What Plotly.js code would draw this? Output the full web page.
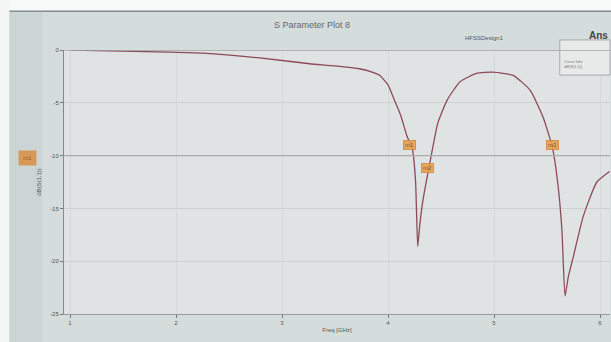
<!DOCTYPE html>
<html><head><meta charset="utf-8">
<script src="https://cdn.plot.ly/plotly-3.0.1.min.js"></script>
<style>html,body{margin:0;padding:0;background:#d5dcdc;}#c{width:611px;height:342px;}</style>
</head><body><div id="c"></div>
<script>
const freqGHz = [1.0,1.5,1.94,2.25,2.79,3.26,3.5,3.74,3.85,3.92,4.0,4.05,4.12,4.18,4.23,4.26,4.28,4.30,4.33,4.40,4.47,4.56,4.68,4.84,4.99,5.18,5.34,5.46,5.55,5.60,5.64,5.67,5.70,5.75,5.84,5.97,6.09];
const s11dB = [0,-0.1,-0.2,-0.3,-0.75,-1.3,-1.5,-1.8,-2.1,-2.4,-3.3,-4.5,-6.2,-8.2,-9.4,-12.5,-18.6,-16.5,-14.2,-10.4,-6.9,-4.7,-3.0,-2.2,-2.1,-2.4,-3.8,-6.3,-9.2,-12.5,-17,-23.3,-21.5,-19.5,-15.8,-12.5,-11.5];
const markerNames = ["m1","m2","m3"];
const markerFreq = [4.2,4.37,5.55];
const markerDB = [-9.0,-11.2,-9.0];
const xTicks = [1,2,3,4,5,6];
const yTicks = [0,-5,-10,-15,-20,-25];

const anns = markerNames.map((n,i)=>({x:markerFreq[i],y:markerDB[i],xref:'x',yref:'y',text:n,showarrow:false,
  bgcolor:'#e8a050',bordercolor:'#d88a3a',borderwidth:1,font:{size:6,color:'#7a4a20',family:'Liberation Sans'},borderpad:1,opacity:0.9}));
anns.push({x:-0.084,y:0.59,xref:'paper',yref:'paper',text:'m1',showarrow:false,bgcolor:'#d9934a',font:{size:6,color:'#8a5020'},borderpad:4,opacity:0.9});
anns.push({x:0.455,y:1.121,xref:'paper',yref:'paper',text:'S Parameter Plot 8',showarrow:false,font:{size:9,color:'#666',family:'Liberation Sans'}});
anns.push({x:0.81,y:1.064,xref:'paper',yref:'paper',text:'HFSSDesign1',showarrow:false,font:{size:6,color:'#555',family:'Liberation Sans'}});
anns.push({x:1.0,y:1.085,xref:'paper',yref:'paper',text:'<b>Ans</b>',showarrow:false,xanchor:'right',font:{size:10,color:'#444',family:'Liberation Sans'}});
anns.push({x:0.955,y:0.975,xref:'paper',yref:'paper',text:'Curve Info<br>dB(S(1,1))',showarrow:false,font:{size:4,color:'#777',family:'Liberation Sans'}});

const data = [{x:freqGHz,y:s11dB,type:'scatter',mode:'lines',line:{color:'#8c4b57',width:1.3,shape:'spline',smoothing:0.5},hoverinfo:'skip'}];

const layout = {
  width:611,height:342,margin:{l:64,r:1,t:50,b:28},
  paper_bgcolor:'#d5dcdc',plot_bgcolor:'#dfe3e4',showlegend:false,
  font:{family:'Liberation Sans',size:7,color:'#555'},
  xaxis:{range:[0.943,6.094],tickvals:xTicks,ticktext:xTicks.map(String),showgrid:true,gridcolor:'#d3d8d8',zeroline:false,
    ticks:'outside',ticklen:3,tickcolor:'#777',showline:true,linecolor:'#999',tickfont:{size:6,color:'#555'},
    title:{text:'Freq [GHz]',font:{size:6,color:'#555'},standoff:2}},
  yaxis:{range:[-25,0],tickvals:yTicks,ticktext:yTicks.map(String),showgrid:true,gridcolor:'#cbd0d0',zeroline:false,
    ticks:'outside',ticklen:3,tickcolor:'#777',showline:true,linecolor:'#888',tickfont:{size:6,color:'#555'},
    title:{text:'dB(S(1,1))',font:{size:6,color:'#555'},standoff:8}},
  annotations:anns,
  shapes:[
    {type:'rect',xref:'paper',yref:'paper',x0:-0.2,x1:1.1,y0:1.15,y1:1.3,fillcolor:'#f8f9f9',line:{width:0},layer:'below'},
    {type:'rect',xref:'paper',yref:'paper',x0:-0.2,x1:-0.1,y0:-0.2,y1:1.3,fillcolor:'#f4f6f6',line:{width:0},layer:'below'},
    {type:'rect',xref:'paper',yref:'paper',x0:-0.1,x1:-0.04,y0:-0.2,y1:1.145,fillcolor:'#ccd5d5',line:{width:0},layer:'below'},
    {type:'line',xref:'paper',yref:'paper',x0:-0.1,x1:1.1,y0:1.147,y1:1.147,line:{color:'#8a9090',width:1.5}},
    {type:'rect',xref:'paper',yref:'paper',x0:0.908,x1:1.0,y0:0.905,y1:1.038,fillcolor:'#e8eaea',line:{color:'#aaa',width:1}},
    {type:'line',xref:'x',yref:'y',x0:0.943,x1:6.094,y0:0,y1:0,line:{color:'#a0a5a4',width:1.5}},
    {type:'line',xref:'x',yref:'y',x0:0.943,x1:6.094,y0:-10,y1:-10,line:{color:'#a8acaa',width:1.2}}
  ]
};
Plotly.newPlot('c',data,layout,{displayModeBar:false,staticPlot:true});
</script></body></html>
